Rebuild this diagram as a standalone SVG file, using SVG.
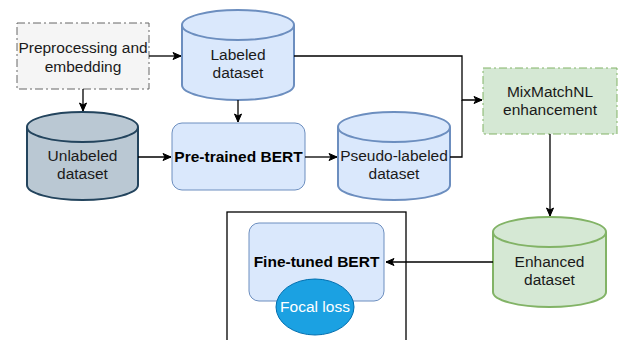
<svg xmlns="http://www.w3.org/2000/svg" width="625" height="340" viewBox="0 0 625 340">
<defs>
<marker id="arr" markerWidth="10" markerHeight="10" refX="9" refY="5" orient="auto" markerUnits="userSpaceOnUse">
<path d="M1,1.5 L9,5 L1,8.5 L3,5 Z" fill="#000" stroke="#000" stroke-width="1"/>
</marker>
</defs>
<style>
text{font-family:"Liberation Sans",Arial,sans-serif;font-size:15.5px;text-anchor:middle;fill:#1a1a1a}
.b{font-weight:bold;fill:#000}
.conn path{fill:none;stroke:#000;stroke-width:1.3}
.blue{fill:#dae8fc;stroke:#6c8ebf;stroke-width:2}
.green{fill:#d5e8d4;stroke:#82b366;stroke-width:2}
.dark{fill:#bac8d3;stroke:#23445d;stroke-width:2}
</style>
<rect x="0" y="0" width="625" height="340" fill="#fff"/>

<g id="frame">
<rect x="227" y="212" width="179" height="140" fill="none" stroke="#000" stroke-width="1.3"/>
</g>

<g id="preprocessing">
<rect x="17" y="23" width="132" height="66" fill="#f5f5f5" stroke="#666" stroke-width="1" stroke-dasharray="8 3 2 3"/>
<text x="83" y="53">Preprocessing and</text>
<text x="83" y="71.5">embedding</text>
</g>

<g id="labeled">
<path class="blue" d="M182,25 A56,15 0 0 1 294,25 V85 A56,15 0 0 1 182,85 Z"/>
<path class="blue" fill="none" d="M182,25 A56,15 0 0 0 294,25"/>
<text x="238" y="60">Labeled</text>
<text x="238" y="78">dataset</text>
</g>

<g id="unlabeled">
<path class="dark" d="M27,127 A55.5,15 0 0 1 138,127 V185 A55.5,15 0 0 1 27,185 Z"/>
<path class="dark" fill="none" d="M27,127 A55.5,15 0 0 0 138,127"/>
<text x="82.5" y="161">Unlabeled</text>
<text x="82.5" y="179">dataset</text>
</g>

<g id="pretrained">
<rect x="172" y="123" width="133" height="67" rx="10" fill="#dae8fc" stroke="#6c8ebf" stroke-width="1"/>
<text class="b" x="238.5" y="162">Pre-trained BERT</text>
</g>

<g id="pseudo">
<path class="blue" d="M338,127 A56,15 0 0 1 450,127 V185 A56,15 0 0 1 338,185 Z"/>
<path class="blue" fill="none" d="M338,127 A56,15 0 0 0 450,127"/>
<text x="394" y="161">Pseudo-labeled</text>
<text x="394" y="179">dataset</text>
</g>

<g id="mixmatch">
<rect x="483" y="68" width="134" height="66" fill="#d5e8d4" stroke="#82b366" stroke-width="1" stroke-dasharray="8 3 2 3"/>
<text x="550" y="97">MixMatchNL</text>
<text x="550" y="115">enhancement</text>
</g>

<g id="enhanced">
<path class="green" d="M493,232 A56.5,15 0 0 1 606,232 V292 A56.5,15 0 0 1 493,292 Z"/>
<path class="green" fill="none" d="M493,232 A56.5,15 0 0 0 606,232"/>
<text x="549.5" y="267">Enhanced</text>
<text x="549.5" y="285">dataset</text>
</g>

<g id="finetuned">
<rect x="249" y="223" width="135" height="78" rx="10" fill="#dae8fc" stroke="#6c8ebf" stroke-width="1"/>
<text class="b" x="316.5" y="267">Fine-tuned BERT</text>
</g>

<g id="focal">
<ellipse cx="315" cy="307" rx="39" ry="28" fill="#1ba1e2" stroke="#006eaf" stroke-width="1"/>
<text x="315" y="312" style="fill:#fff">Focal loss</text>
</g>

<g id="connectors" class="conn">
<path d="M149,56 H181" marker-end="url(#arr)"/>
<path d="M83,89 V111" marker-end="url(#arr)"/>
<path d="M238,100 V122" marker-end="url(#arr)"/>
<path d="M138,157 H171" marker-end="url(#arr)"/>
<path d="M305,157 H337" marker-end="url(#arr)"/>
<path d="M294,56 H462 V100 H482" marker-end="url(#arr)"/>
<path d="M450,157 H462 V100"/>
<path d="M550,134 V216" marker-end="url(#arr)"/>
<path d="M493,262 H386" marker-end="url(#arr)"/>
</g>
</svg>
